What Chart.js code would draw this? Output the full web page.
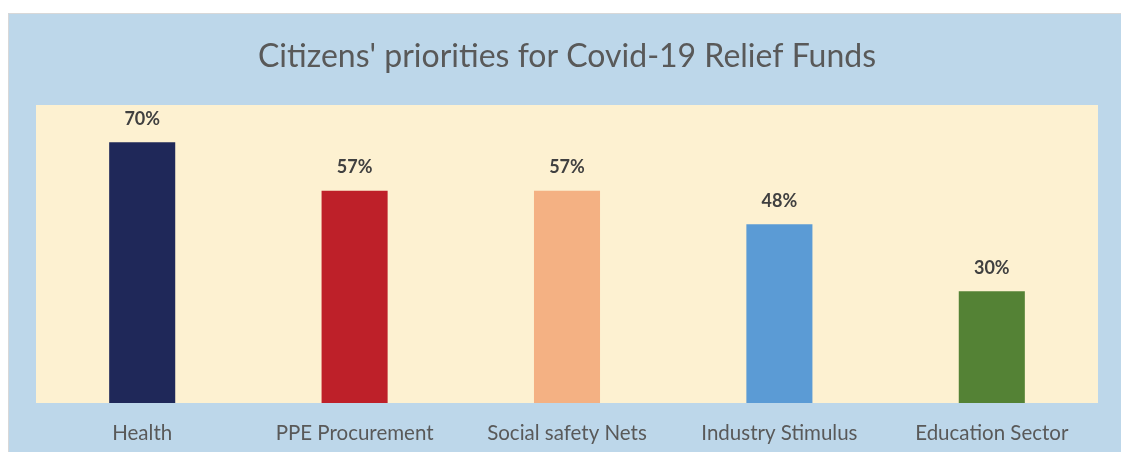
<!DOCTYPE html>
<html>
<head>
<meta charset="utf-8">
<script src="https://cdn.jsdelivr.net/npm/chart.js@4"></script>
<style>
  html, body { margin:0; padding:0; background:#fff; }
  #wrap { width:1121px; height:452px; position:relative; }
</style>
</head>
<body>
<div id="wrap"><canvas id="chart" width="1121" height="452"></canvas></div>
<script>
// Citizens' priorities bar chart
const categories = ['Health', 'PPE Procurement', 'Social safety Nets', 'Industry Stimulus', 'Education Sector'];
const values = [70, 57, 57, 48, 30];
const barColors = ['#1F2859', '#BE2029', '#F4B183', '#5B9BD5', '#548235'];

const FONT = 'Lato, "Open Sans", sans-serif';

// panel backgrounds: outer blue frame + cream plot area
const backdrop = {
  id: 'backdrop',
  beforeDraw(chart) {
    const {ctx, chartArea: a} = chart;
    ctx.save();
    ctx.fillStyle = '#fff';
    ctx.fillRect(0, 0, chart.width, chart.height);
    ctx.fillStyle = '#BDD7EA';
    ctx.fillRect(8, 13, chart.width - 8, chart.height - 13);
    ctx.strokeStyle = '#D8D8D8';
    ctx.lineWidth = 1;
    ctx.beginPath();
    ctx.moveTo(8.5, chart.height);
    ctx.lineTo(8.5, 13.5);
    ctx.lineTo(chart.width, 13.5);
    ctx.stroke();
    ctx.fillStyle = '#FDF1D1';
    ctx.fillRect(a.left, a.top, a.right - a.left, a.bottom - a.top);
    ctx.restore();
  }
};

// value labels above the bars
const valueLabels = {
  id: 'valueLabels',
  afterDatasetsDraw(chart) {
    const {ctx} = chart;
    const meta = chart.getDatasetMeta(0);
    ctx.save();
    ctx.font = 'bold 18px ' + FONT;
    ctx.fillStyle = '#404040';
    ctx.textAlign = 'center';
    ctx.textBaseline = 'middle';
    meta.data.forEach((bar, i) => {
      ctx.fillText(values[i] + '%', bar.x, bar.y - 23);
    });
    ctx.restore();
  }
};

new Chart(document.getElementById('chart'), {
  type: 'bar',
  data: {
    labels: categories,
    datasets: [{
      data: values,
      backgroundColor: barColors,
      borderWidth: 0,
      categoryPercentage: 1,
      barPercentage: 0.311
    }]
  },
  options: {
    responsive: false,
    animation: false,
    layout: { padding: { left: 36, right: 23, top: 0, bottom: 0 } },
    plugins: {
      legend: { display: false },
      tooltip: { enabled: false },
      title: {
        display: true,
        text: "Citizens' priorities for Covid-19 Relief Funds",
        color: '#595959',
        font: { family: FONT, size: 32, weight: 'normal', lineHeight: 1.2 },
        padding: { top: 37, bottom: 29.6 }
      }
    },
    scales: {
      x: {
        grid: { display: false, drawTicks: false },
        border: { display: false },
        ticks: { color: '#595959', font: { family: FONT, size: 20.5 }, padding: 18 },
        afterFit(s) { s.height = 49; }
      },
      y: {
        display: false,
        min: 0,
        max: 80
      }
    }
  },
  plugins: [backdrop, valueLabels]
});
</script>
</body>
</html>
